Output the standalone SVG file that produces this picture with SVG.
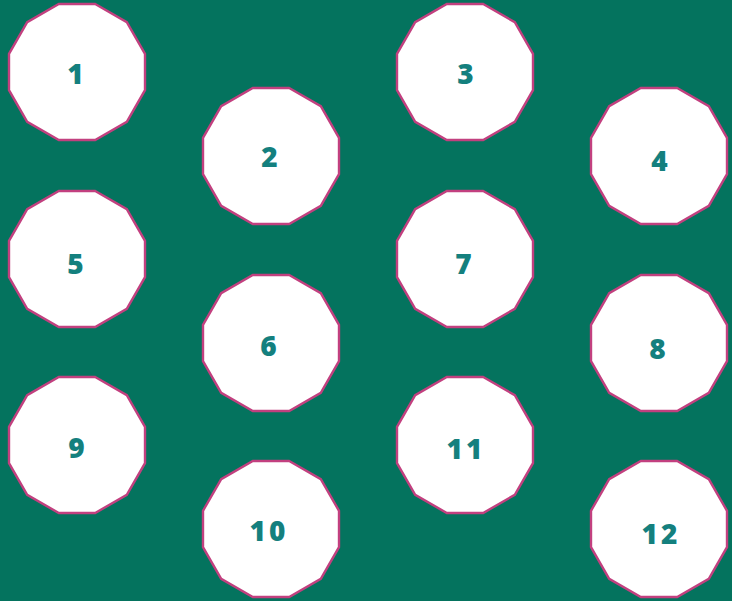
<svg xmlns="http://www.w3.org/2000/svg" xmlns:xlink="http://www.w3.org/1999/xlink" width="732" height="601" viewBox="0 0 732 601">
<style>
.shape{fill:#ffffff;stroke:#c2407f;stroke-width:2.4}
.lbl{font-family:"Open Sans","Liberation Sans",sans-serif;font-weight:800;font-size:28px;fill:#14807e;text-anchor:middle;dominant-baseline:central;letter-spacing:3px}
</style>
<defs>
<polygon id="dodec" points="18.2,-68 49.8,-49.8 68,-18.2 68,18.2 49.8,49.8 18.2,68 -18.2,68 -49.8,49.8 -68,18.2 -68,-18.2 -49.8,-49.8 -18.2,-68"/>
</defs>
<rect width="732" height="601" fill="#04735e"/>
<g id="connectors"></g>
<g id="node1"><use xlink:href="#dodec" href="#dodec" class="shape" transform="translate(77,72)"/><text class="lbl" x="77" y="73">1</text></g>
<g id="node2"><use xlink:href="#dodec" href="#dodec" class="shape" transform="translate(271,156)"/><text class="lbl" x="271" y="156">2</text></g>
<g id="node3"><use xlink:href="#dodec" href="#dodec" class="shape" transform="translate(465,72)"/><text class="lbl" x="467" y="73">3</text></g>
<g id="node4"><use xlink:href="#dodec" href="#dodec" class="shape" transform="translate(659,156)"/><text class="lbl" x="661" y="160">4</text></g>
<g id="node5"><use xlink:href="#dodec" href="#dodec" class="shape" transform="translate(77,259)"/><text class="lbl" x="77" y="263">5</text></g>
<g id="node6"><use xlink:href="#dodec" href="#dodec" class="shape" transform="translate(271,343)"/><text class="lbl" x="270" y="345">6</text></g>
<g id="node7"><use xlink:href="#dodec" href="#dodec" class="shape" transform="translate(465,259)"/><text class="lbl" x="465" y="263">7</text></g>
<g id="node8"><use xlink:href="#dodec" href="#dodec" class="shape" transform="translate(659,343)"/><text class="lbl" x="659" y="348">8</text></g>
<g id="node9"><use xlink:href="#dodec" href="#dodec" class="shape" transform="translate(77,445)"/><text class="lbl" x="78" y="447">9</text></g>
<g id="node10"><use xlink:href="#dodec" href="#dodec" class="shape" transform="translate(271,529)"/><text class="lbl" x="269" y="530">10</text></g>
<g id="node11"><use xlink:href="#dodec" href="#dodec" class="shape" transform="translate(465,445)"/><text class="lbl" x="466" y="448">11</text></g>
<g id="node12"><use xlink:href="#dodec" href="#dodec" class="shape" transform="translate(659,529)"/><text class="lbl" x="661" y="533">12</text></g>
</svg>
